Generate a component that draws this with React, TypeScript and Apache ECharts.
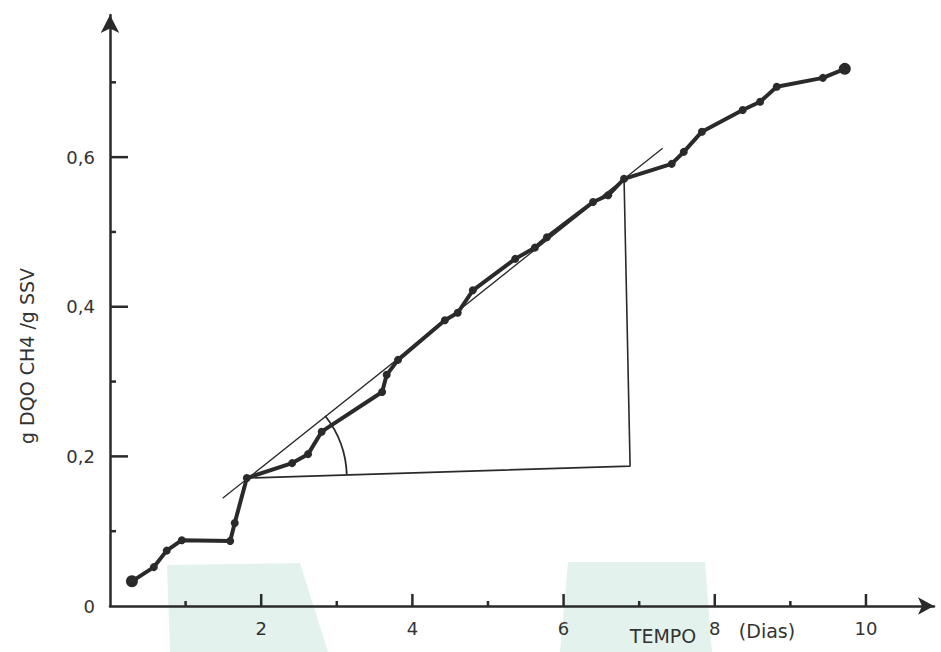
import React, { useEffect, useRef } from "react";
import * as echarts from "echarts";

// Measured curve: time (days) and g DQO CH4 / g SSV
const tempoDias = [0.29, 0.58, 0.75, 0.95, 1.59, 1.65, 1.81, 2.41, 2.62, 2.80, 3.60, 3.66, 3.81, 4.43, 4.60, 4.80, 5.36, 5.62, 5.78, 6.39, 6.59, 6.80, 7.43, 7.59, 7.83, 8.37, 8.60, 8.82, 9.43, 9.72];
const dqoCH4 = [0.033, 0.052, 0.074, 0.088, 0.087, 0.111, 0.171, 0.191, 0.203, 0.233, 0.286, 0.309, 0.329, 0.382, 0.392, 0.422, 0.464, 0.479, 0.493, 0.540, 0.549, 0.571, 0.591, 0.607, 0.634, 0.663, 0.674, 0.694, 0.706, 0.718];

// Tangent line (slope construction)
const tangentX = [1.49, 7.31];
const tangentY = [0.144, 0.612];
// Right-triangle construction: horizontal leg then vertical leg
const legX = [1.81, 6.88, 6.80];
const legY = [0.171, 0.187, 0.571];

// Tick values
const xMajorTicks = [2, 4, 6, 8, 10];
const xMinorTicks = [1, 3, 5, 7, 9];
const yMajorTicks = [0.2, 0.4, 0.6];
const yLabelTicks = [0, 0.2, 0.4, 0.6];
const yMinorTicks = [0.1, 0.3, 0.5, 0.7];

const INK = "#2a2a2a";
const FONT = "DejaVu Sans";

const isIn = (arr: number[], v: number) => arr.some((t) => Math.abs(t - v) < 1e-4);

export default function App() {
  const ref = useRef<HTMLDivElement>(null);

  useEffect(() => {
    if (!ref.current) return;
    const chart = echarts.init(ref.current, null, { renderer: "svg" });

    const curve = tempoDias.map((x, i) => [x, dqoCH4[i]]);
    const tangent = tangentX.map((x, i) => [x, tangentY[i]]);
    const legs = legX.map((x, i) => [x, legY[i]]);
    const last = curve.length - 1;

    const xTickData = [...xMajorTicks, ...xMinorTicks].map((v) => [v, 0]);
    const yTickData = [...yMajorTicks, ...yMinorTicks].map((v) => [0, v]);

    chart.setOption({
      animation: false,
      grid: { left: 110, right: 7, top: 15, bottom: 46, containLabel: false },
      xAxis: {
        type: "value",
        min: 0,
        max: 10.9,
        splitLine: { show: false },
        axisLine: {
          show: true,
          symbol: ["none", "arrow"],
          symbolSize: [13, 16],
          lineStyle: { color: INK, width: 2.5 },
        },
        axisTick: { show: false },
        axisLabel: {
          show: true,
          customValues: xMajorTicks,
          margin: 13,
          color: "#333",
          fontSize: 18,
          fontFamily: FONT,
        },
      },
      yAxis: {
        type: "value",
        min: 0,
        max: 0.79,
        splitLine: { show: false },
        axisLine: {
          show: true,
          symbol: ["none", "arrow"],
          symbolSize: [14, 18],
          lineStyle: { color: INK, width: 2.5 },
        },
        axisTick: { show: false },
        axisLabel: {
          show: true,
          customValues: yLabelTicks,
          margin: 15,
          color: "#333",
          fontSize: 18,
          fontFamily: FONT,
          formatter: (v: number) => (v === 0 ? "0" : String(v).replace(".", ",")),
        },
      },
      graphic: [
        {
          type: "polygon",
          z: -10,
          silent: true,
          shape: { points: [[167, 565], [300, 563], [328, 652], [170, 652]] },
          style: { fill: "#e4f2ee" },
        },
        {
          type: "polygon",
          z: -10,
          silent: true,
          shape: { points: [[568, 562], [705, 562], [712, 652], [560, 652]] },
          style: { fill: "#e4f2ee" },
        },
        {
          type: "text",
          x: 27,
          y: 356,
          rotation: Math.PI / 2,
          style: {
            text: "g DQO CH4 /g SSV",
            fill: "#333",
            fontSize: 19,
            fontFamily: FONT,
            textAlign: "center",
            textVerticalAlign: "middle",
          },
        },
        {
          type: "text",
          x: 663,
          y: 636,
          style: {
            text: "TEMPO",
            fill: "#333",
            fontSize: 19,
            fontFamily: FONT,
            textAlign: "center",
            textVerticalAlign: "middle",
          },
        },
        {
          type: "text",
          x: 767,
          y: 631,
          style: {
            text: "(Dias)",
            fill: "#333",
            fontSize: 19,
            fontFamily: FONT,
            textAlign: "center",
            textVerticalAlign: "middle",
          },
        },
      ],
      series: [
        {
          type: "custom",
          coordinateSystem: "cartesian2d",
          data: xTickData,
          encode: { x: 0, y: 1 },
          clip: false,
          z: 4,
          renderItem: (_params: any, api: any) => {
            const v = api.value(0);
            const p = api.coord([v, 0]);
            const len = isIn(xMajorTicks, v) ? 12 : 5;
            return {
              type: "line",
              shape: { x1: p[0], y1: p[1], x2: p[0], y2: p[1] - len },
              style: { stroke: INK, lineWidth: 2.5 },
            };
          },
        },
        {
          type: "custom",
          coordinateSystem: "cartesian2d",
          data: yTickData,
          encode: { x: 0, y: 1 },
          clip: false,
          z: 4,
          renderItem: (_params: any, api: any) => {
            const v = api.value(1);
            const p = api.coord([0, v]);
            const len = isIn(yMajorTicks, v) ? 18 : 6;
            return {
              type: "line",
              shape: { x1: p[0], y1: p[1], x2: p[0] + len, y2: p[1] },
              style: { stroke: INK, lineWidth: 2.5 },
            };
          },
        },
        {
          type: "line",
          data: tangent,
          symbol: "none",
          lineStyle: { color: INK, width: 1.3 },
          z: 3,
        },
        {
          type: "line",
          data: legs,
          symbol: "none",
          lineStyle: { color: INK, width: 1.6 },
          z: 3,
        },
        {
          type: "custom",
          coordinateSystem: "cartesian2d",
          data: [[legX[0], legY[0]]],
          encode: { x: 0, y: 1 },
          z: 3,
          renderItem: (_params: any, api: any) => {
            const c = api.coord([api.value(0), api.value(1)]);
            const t0 = api.coord([tangentX[0], tangentY[0]]);
            const t1 = api.coord([tangentX[1], tangentY[1]]);
            const h1 = api.coord([legX[1], legY[1]]);
            const a0 = Math.atan2(t1[1] - t0[1], t1[0] - t0[0]);
            const a1 = Math.atan2(h1[1] - c[1], h1[0] - c[0]);
            return {
              type: "arc",
              shape: { cx: c[0], cy: c[1], r: 100, startAngle: a0, endAngle: a1, clockwise: true },
              style: { stroke: INK, lineWidth: 1.8, fill: "none" },
            };
          },
        },
        {
          type: "line",
          data: curve,
          symbol: "circle",
          symbolSize: (_v: any, p: any) => (p.dataIndex === 0 || p.dataIndex === last ? 12 : 8),
          itemStyle: { color: INK },
          lineStyle: { color: INK, width: 4 },
          z: 5,
        },
      ],
    });

    return () => chart.dispose();
  }, []);

  return (
    <div
      ref={ref}
      style={{ position: "fixed", left: 0, top: 0, width: 941, height: 652, background: "#fff" }}
    />
  );
}
